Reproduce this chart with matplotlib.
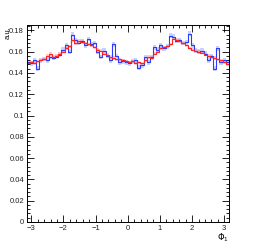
import matplotlib
matplotlib.use("Agg")
import matplotlib.pyplot as plt
import numpy as np
from matplotlib.ticker import MultipleLocator

plt.rcParams["font.family"] = ["Liberation Sans", "DejaVu Sans"]

n_bins = 64
edges = np.linspace(-np.pi, np.pi, n_bins + 1)

# red histogram (smooth sample)
red_vals = [
    0.149, 0.150, 0.149, 0.151, 0.152, 0.153, 0.156, 0.158,
    0.155, 0.156, 0.158, 0.160, 0.163, 0.165, 0.171, 0.168,
    0.170, 0.169, 0.168, 0.167, 0.166, 0.164, 0.162, 0.161,
    0.158, 0.157, 0.155, 0.154, 0.153, 0.153, 0.152, 0.151,
    0.150, 0.151, 0.149, 0.150, 0.149, 0.152, 0.155, 0.154,
    0.158, 0.160, 0.163, 0.164, 0.165, 0.167, 0.172, 0.171,
    0.170, 0.168, 0.166, 0.163, 0.162, 0.161, 0.160, 0.159,
    0.157, 0.156, 0.155, 0.154, 0.153, 0.152, 0.150, 0.148,
]

# blue histogram (noisier sample)
blue_vals = [
    0.150, 0.149, 0.152, 0.144, 0.152, 0.153, 0.152, 0.155,
    0.154, 0.155, 0.157, 0.162, 0.166, 0.160, 0.176, 0.171,
    0.168, 0.170, 0.166, 0.172, 0.167, 0.168, 0.160, 0.155,
    0.161, 0.156, 0.152, 0.167, 0.156, 0.150, 0.151, 0.150,
    0.149, 0.151, 0.152, 0.145, 0.147, 0.155, 0.150, 0.155,
    0.164, 0.162, 0.166, 0.163, 0.165, 0.175, 0.174, 0.170,
    0.171, 0.168, 0.169, 0.177, 0.166, 0.161, 0.160, 0.161,
    0.158, 0.152, 0.156, 0.144, 0.163, 0.150, 0.152, 0.150,
]


def draw_hist(ax, vals, color, band_color, err):
    vals = np.asarray(vals)
    ext = np.append(vals, vals[-1])
    ax.fill_between(edges, ext - err, ext + err, step="post",
                    color=band_color, alpha=0.45, linewidth=0)
    ax.step(edges, ext, where="post", color=color, linewidth=0.8)


fig = plt.figure(figsize=(2.67, 2.48), dpi=100)
ax = fig.add_axes([0.1, 0.105, 0.757, 0.794])

draw_hist(ax, blue_vals, "#2a3cff", "#8899ff", 0.0022)
draw_hist(ax, red_vals, "#ff2222", "#ff8888", 0.0015)

ax.set_xlim(-np.pi, np.pi)
ax.set_ylim(0, 0.185)

ax.xaxis.set_major_locator(MultipleLocator(1))
ax.xaxis.set_minor_locator(MultipleLocator(0.2))
ax.yaxis.set_major_locator(MultipleLocator(0.02))
ax.yaxis.set_minor_locator(MultipleLocator(0.004))
ax.yaxis.set_major_formatter(plt.FuncFormatter(lambda v, p: "0" if v == 0 else "%g" % v))

ax.tick_params(which="both", direction="in", top=True, right=True,
               labelsize=5.5, width=0.6, pad=2, labelcolor="#222222")
ax.tick_params(which="major", length=5)
ax.tick_params(which="minor", length=2.5)
for s in ax.spines.values():
    s.set_linewidth(0.7)

fig.text(0.857, 0.015, r"$\Phi_1$", fontsize=6, ha="right", va="bottom")
fig.text(0.03, 0.895, "a.u.", fontsize=5.5, rotation=90, ha="center", va="top")

fig.savefig("out.png", dpi=100)
